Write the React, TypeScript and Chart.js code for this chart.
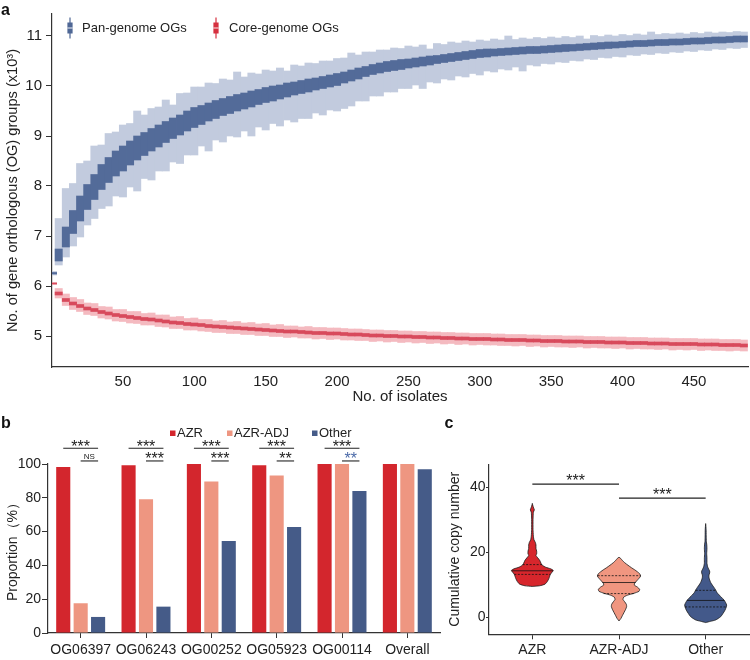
import React, { useEffect, useRef } from "react";
import { Chart, registerables } from "chart.js";
Chart.register(...registerables);

const FONT = '"Liberation Sans", Arial, Helvetica, sans-serif';
const INK = "#222";
const AXIS = "#333";
Chart.defaults.font.family = FONT;
Chart.defaults.color = INK;

// ---------------- panel a ----------------
const ISOLATES = [
  1, 5, 10, 15, 20, 25, 30, 35, 40, 45,
  50, 55, 60, 65, 70, 75, 80, 85, 90, 95,
  100, 105, 110, 115, 120, 125, 130, 135, 140, 145,
  150, 155, 160, 165, 170, 175, 180, 185, 190, 195,
  200, 205, 210, 215, 220, 225, 230, 235, 240, 245,
  250, 255, 260, 265, 270, 275, 280, 285, 290, 295,
  300, 305, 310, 315, 320, 325, 330, 335, 340, 345,
  350, 355, 360, 365, 370, 375, 380, 385, 390, 395,
  400, 405, 410, 415, 420, 425, 430, 435, 440, 445,
  450, 455, 460, 465, 470, 475, 480, 485,
];
const PAN_LO = [
  6.22, 6.42, 6.58, 6.8, 6.98, 7.22, 7.35, 7.55, 7.6, 7.8,
  7.78, 7.98, 7.9, 8.15, 8.12, 8.3, 8.3, 8.48, 8.45, 8.62,
  8.62, 8.8, 8.7, 8.92, 8.88, 9.0, 8.98, 9.1, 9.0, 9.18,
  9.12, 9.25, 9.2, 9.32, 9.28, 9.35, 9.35, 9.46, 9.42, 9.52,
  9.5, 9.55, 9.6, 9.7, 9.7, 9.8, 9.8, 9.88, 9.88, 9.95,
  9.95, 10.02, 9.95, 10.08, 10.06, 10.14, 10.12, 10.2, 10.18, 10.25,
  10.22, 10.3, 10.28, 10.34, 10.32, 10.38, 10.3, 10.42, 10.4, 10.45,
  10.44, 10.48, 10.47, 10.51, 10.5, 10.54, 10.53, 10.57, 10.56, 10.59,
  10.58, 10.62, 10.61, 10.64, 10.63, 10.66, 10.65, 10.68, 10.67, 10.7,
  10.69, 10.72, 10.71, 10.74, 10.73, 10.76, 10.75, 10.77,
];
const PAN_Q1 = [
  6.24, 6.5, 6.78, 7.05, 7.3, 7.53, 7.73, 7.93, 8.07, 8.2,
  8.3, 8.42, 8.52, 8.61, 8.7, 8.78, 8.87, 8.95, 9.02, 9.1,
  9.17, 9.23, 9.3, 9.35, 9.41, 9.45, 9.5, 9.54, 9.58, 9.63,
  9.67, 9.7, 9.74, 9.78, 9.82, 9.85, 9.88, 9.92, 9.95, 9.98,
  10.01, 10.06, 10.1, 10.14, 10.19, 10.23, 10.26, 10.29, 10.31, 10.33,
  10.36, 10.38, 10.4, 10.42, 10.45, 10.47, 10.49, 10.51, 10.53, 10.55,
  10.57, 10.58, 10.6, 10.61, 10.62, 10.63, 10.64, 10.65, 10.65, 10.66,
  10.67, 10.68, 10.69, 10.7, 10.71, 10.72, 10.73, 10.74, 10.75, 10.76,
  10.77, 10.78, 10.79, 10.79, 10.8, 10.81, 10.81, 10.82, 10.82, 10.83,
  10.84, 10.84, 10.85, 10.86, 10.86, 10.87, 10.88, 10.88,
];
const PAN_Q3 = [
  6.27, 6.74, 7.18, 7.51, 7.8, 8.03, 8.23, 8.43, 8.57, 8.7,
  8.8, 8.9, 9.0, 9.07, 9.15, 9.22, 9.29, 9.36, 9.42, 9.5,
  9.57, 9.61, 9.66, 9.71, 9.75, 9.79, 9.83, 9.86, 9.9, 9.93,
  9.97, 10.0, 10.02, 10.06, 10.08, 10.11, 10.14, 10.16, 10.19, 10.22,
  10.25, 10.28, 10.32, 10.36, 10.39, 10.43, 10.46, 10.49, 10.51, 10.53,
  10.54, 10.56, 10.58, 10.6, 10.61, 10.63, 10.65, 10.67, 10.69, 10.71,
  10.73, 10.74, 10.74, 10.75, 10.76, 10.77, 10.78, 10.79, 10.79, 10.8,
  10.81, 10.82, 10.83, 10.83, 10.84, 10.85, 10.86, 10.87, 10.88, 10.88,
  10.89, 10.9, 10.91, 10.91, 10.92, 10.93, 10.93, 10.94, 10.94, 10.95,
  10.96, 10.96, 10.97, 10.98, 10.98, 10.99, 11.0, 11.0,
];
const PAN_HI = [
  6.29, 7.35, 7.95, 8.05, 8.45, 8.5, 8.8, 8.82, 9.05, 9.08,
  9.22, 9.25, 9.5, 9.42, 9.55, 9.58, 9.72, 9.62, 9.85, 9.86,
  9.98, 9.98, 10.06, 10.05, 10.14, 10.12, 10.28, 10.18, 10.26, 10.24,
  10.32, 10.3, 10.36, 10.3, 10.42, 10.4, 10.46, 10.45, 10.5, 10.5,
  10.55, 10.56, 10.66, 10.62, 10.68, 10.68, 10.72, 10.72, 10.76, 10.75,
  10.8, 10.78, 10.82, 10.74, 10.85, 10.83, 10.88, 10.86, 10.9, 10.88,
  10.92, 10.9, 10.94, 10.92, 11.0, 10.93, 10.96, 10.94, 10.97, 10.95,
  10.98, 10.96, 10.99, 10.97, 11.0, 10.94, 11.01, 10.99, 11.02, 11.0,
  11.03, 11.01, 11.04, 11.02, 11.08, 11.03, 11.05, 11.04, 11.06, 11.04,
  11.07, 11.05, 11.08, 11.06, 11.08, 11.07, 11.09, 11.08,
];
const CORE_LO = [
  6.03, 5.76, 5.61, 5.53, 5.49, 5.43, 5.41, 5.36, 5.34, 5.3,
  5.29, 5.26, 5.25, 5.22, 5.22, 5.19, 5.18, 5.15, 5.15, 5.12,
  5.12, 5.1, 5.09, 5.07, 5.07, 5.05, 5.05, 5.03, 5.03, 5.01,
  5.01, 4.99, 4.99, 4.97, 4.98, 4.96, 4.96, 4.94, 4.95, 4.93,
  4.94, 4.92, 4.92, 4.91, 4.91, 4.89, 4.9, 4.88, 4.89, 4.87,
  4.88, 4.86, 4.87, 4.85, 4.86, 4.84, 4.85, 4.83, 4.84, 4.82,
  4.83, 4.82, 4.82, 4.81, 4.81, 4.8, 4.81, 4.79, 4.8, 4.78,
  4.79, 4.78, 4.78, 4.77, 4.78, 4.76, 4.77, 4.76, 4.76, 4.75,
  4.76, 4.74, 4.75, 4.74, 4.74, 4.73, 4.74, 4.72, 4.73, 4.72,
  4.73, 4.71, 4.72, 4.71, 4.71, 4.7, 4.71, 4.7,
];
const CORE_Q1 = [
  6.04, 5.82, 5.69, 5.62, 5.57, 5.52, 5.49, 5.45, 5.42, 5.39,
  5.37, 5.35, 5.33, 5.31, 5.3, 5.28, 5.26, 5.24, 5.23, 5.21,
  5.2, 5.19, 5.17, 5.16, 5.15, 5.14, 5.13, 5.12, 5.11, 5.1,
  5.09, 5.08, 5.07, 5.06, 5.06, 5.05, 5.04, 5.03, 5.03, 5.02,
  5.02, 5.01, 5.0, 5.0, 4.99, 4.98, 4.98, 4.97, 4.97, 4.96,
  4.96, 4.95, 4.95, 4.94, 4.94, 4.93, 4.93, 4.92, 4.92, 4.91,
  4.91, 4.91, 4.9, 4.9, 4.89, 4.89, 4.89, 4.88, 4.88, 4.87,
  4.87, 4.87, 4.86, 4.86, 4.86, 4.85, 4.85, 4.85, 4.84, 4.84,
  4.84, 4.83, 4.83, 4.83, 4.82, 4.82, 4.82, 4.81, 4.81, 4.81,
  4.81, 4.8, 4.8, 4.8, 4.79, 4.79, 4.79, 4.78,
];
const CORE_Q3 = [
  6.06, 5.88, 5.75, 5.68, 5.63, 5.58, 5.55, 5.51, 5.48, 5.45,
  5.43, 5.41, 5.39, 5.37, 5.36, 5.34, 5.32, 5.3, 5.29, 5.27,
  5.26, 5.25, 5.23, 5.22, 5.21, 5.2, 5.19, 5.18, 5.17, 5.16,
  5.15, 5.14, 5.13, 5.12, 5.12, 5.11, 5.1, 5.09, 5.09, 5.08,
  5.08, 5.07, 5.06, 5.06, 5.05, 5.04, 5.04, 5.03, 5.03, 5.02,
  5.02, 5.01, 5.01, 5.0, 5.0, 4.99, 4.99, 4.98, 4.98, 4.97,
  4.97, 4.97, 4.96, 4.96, 4.95, 4.95, 4.95, 4.94, 4.94, 4.93,
  4.93, 4.93, 4.92, 4.92, 4.92, 4.91, 4.91, 4.91, 4.9, 4.9,
  4.9, 4.89, 4.89, 4.89, 4.88, 4.88, 4.88, 4.87, 4.87, 4.87,
  4.87, 4.86, 4.86, 4.86, 4.85, 4.85, 4.85, 4.84,
];
const CORE_HI = [
  6.07, 5.95, 5.84, 5.77, 5.73, 5.66, 5.65, 5.59, 5.58, 5.53,
  5.53, 5.49, 5.49, 5.45, 5.46, 5.42, 5.42, 5.38, 5.39, 5.35,
  5.36, 5.33, 5.33, 5.3, 5.31, 5.28, 5.29, 5.26, 5.27, 5.24,
  5.25, 5.22, 5.23, 5.2, 5.2, 5.18, 5.19, 5.17, 5.17, 5.16,
  5.16, 5.15, 5.14, 5.14, 5.13, 5.12, 5.12, 5.11, 5.11, 5.1,
  5.1, 5.09, 5.09, 5.08, 5.08, 5.07, 5.07, 5.06, 5.06, 5.05,
  5.05, 5.05, 5.04, 5.04, 5.03, 5.03, 5.03, 5.02, 5.02, 5.01,
  5.01, 5.01, 5.0, 5.0, 5.0, 4.99, 4.99, 4.99, 4.98, 4.98,
  4.98, 4.97, 4.97, 4.97, 4.96, 4.96, 4.96, 4.95, 4.95, 4.95,
  4.95, 4.94, 4.94, 4.94, 4.93, 4.93, 4.93, 4.92,
];
const A_X_TICKS = [50, 100, 150, 200, 250, 300, 350, 400, 450];
const A_Y_TICKS = [5, 6, 7, 8, 9, 10, 11];
const A_SERIES = ["Pan-genome OGs", "Core-genome OGs"];

// ---------------- panel b ----------------
const GENES = ["OG06397", "OG06243", "OG00252", "OG05923", "OG00114", "Overall"];
const B_SERIES = ["AZR", "AZR-ADJ", "Other"];
const AZR_PCT = [98.2, 99.3, 100, 99.2, 100, 100];
const ADJ_PCT = [17.6, 79.1, 89.7, 93.2, 100, 100];
const OTHER_PCT = [9.5, 15.6, 54.4, 62.7, 84.0, 96.9];
const B_Y_TICKS = [0, 20, 40, 60, 80, 100];
const SIG_OUTER = ["***", "***", "***", "***", "***", ""];
const SIG_INNER = ["NS", "***", "***", "**", "**", ""];

// ---------------- panel c ----------------
const GROUPS = ["AZR", "AZR-ADJ", "Other"];
const VIOLIN_Y = [
  [9.5, 9.7, 10.2, 11, 12, 13.2, 14.0, 14.4, 14.9, 15.4, 16.0, 16.6, 17.5, 18.3, 19.0, 19.5, 20.3, 21.2, 22.2, 23.0, 23.8, 25, 27, 30, 32.3, 33.0, 33.6, 34.5, 35],
  [-1.1, -0.3, 0.5, 1.5, 2.5, 3.3, 4.0, 4.8, 5.5, 6.2, 6.8, 7.4, 8.0, 8.6, 9.3, 9.9, 10.5, 11.2, 12.0, 12.7, 13.4, 14.0, 14.6, 15.2, 16.0, 16.8, 17.5, 18.1, 18.5],
  [-1.6, -1.2, -0.8, 0.2, 1.2, 2.2, 3.2, 3.8, 4.5, 5.3, 6.2, 6.9, 7.6, 8.4, 9.2, 9.9, 10.7, 11.5, 12.3, 13.0, 13.6, 14.2, 14.8, 15.5, 16.6, 18.1, 19.6, 21.2, 22.5, 23.2, 25, 27, 28.8],
];
const VIOLIN_W = [
  [0, 0.085, 0.146, 0.173, 0.192, 0.208, 0.231, 0.242, 0.212, 0.154, 0.115, 0.1, 0.085, 0.062, 0.042, 0.05, 0.05, 0.042, 0.042, 0.035, 0.019, 0.012, 0.008, 0.008, 0.012, 0.023, 0.015, 0.004, 0],
  [0, 0.023, 0.038, 0.058, 0.077, 0.088, 0.085, 0.065, 0.046, 0.054, 0.096, 0.173, 0.231, 0.238, 0.212, 0.177, 0.181, 0.204, 0.231, 0.25, 0.238, 0.212, 0.181, 0.146, 0.104, 0.065, 0.038, 0.019, 0],
  [0, 0.058, 0.115, 0.173, 0.2, 0.223, 0.238, 0.242, 0.231, 0.212, 0.181, 0.154, 0.131, 0.115, 0.096, 0.077, 0.058, 0.046, 0.038, 0.038, 0.046, 0.046, 0.035, 0.023, 0.015, 0.015, 0.012, 0.015, 0.012, 0.008, 0.006, 0.005, 0],
];
const QUARTILES = [
  [13.2, 14.3, 16.2],
  [7.3, 10.7, 12.8],
  [3.2, 5.2, 8.3],
];
const QUARTILE_W = [
  [0.208, 0.238, 0.112],
  [0.177, 0.192, 0.246],
  [0.238, 0.215, 0.115],
];
const C_Y_TICKS = [0, 20, 40];
const SIG_C = [
  { from: 0, to: 1, label: "***" },
  { from: 1, to: 2, label: "***" },
];

// ---------------- styles ----------------
const PAN_DARK = "#536b99";
const PAN_LIGHT = "#c2cbde";
const CORE_DARK = "#d84a5c";
const CORE_LIGHT = "#f4bac0";
const CORE_ICON = "#d6303f";
const RED = "#d3262d";
const SALMON = "#ee9681";
const NAVY = "#455b88";
const VIOLIN_COLORS = ["#d7262c", "#f09680", "#43598a"];

const fixedWidth = (w: number) => (s: any) => { s.width = w; };
const fixedHeight = (h: number) => (s: any) => { s.height = h; };
const setTicks = (vals: number[]) => (s: any) => { s.ticks = vals.map((v) => ({ value: v })); };

// ---------- panel a ----------
const legendA = {
  id: "legendA",
  afterDraw(chart: any) {
    const ctx = chart.ctx;
    const items = [
      { label: A_SERIES[0], color: "#4f6795", x: 70, tx: 82 },
      { label: A_SERIES[1], color: CORE_ICON, x: 216, tx: 229 },
    ];
    ctx.save();
    items.forEach((it) => {
      ctx.fillStyle = it.color;
      ctx.fillRect(it.x - 0.6, 17.5, 1.2, 21);
      ctx.fillRect(it.x - 2.6, 22.5, 5.2, 11);
      ctx.fillStyle = "rgba(255,255,255,0.9)";
      ctx.fillRect(it.x - 2.6, 27.5, 5.2, 1);
      ctx.fillStyle = INK;
      ctx.font = `13px ${FONT}`;
      ctx.textAlign = "left";
      ctx.textBaseline = "middle";
      ctx.fillText(it.label, it.tx, 28.5);
    });
    ctx.restore();
  },
};

function buildA(): any {
  const mk = (lo: number[], hi: number[]) => ISOLATES.map((n, i) => ({ x: n, y: [lo[i], hi[i]] }));
  const common = { grouped: false, barThickness: 7.3, borderWidth: 0 };
  return {
    type: "bar",
    data: {
      datasets: [
        { label: A_SERIES[0] + " box", data: mk(PAN_Q1, PAN_Q3), backgroundColor: PAN_DARK, order: 1, ...common },
        { label: A_SERIES[1] + " box", data: mk(CORE_Q1, CORE_Q3), backgroundColor: CORE_DARK, order: 1, ...common },
        { label: A_SERIES[0], data: mk(PAN_LO, PAN_HI), backgroundColor: PAN_LIGHT, order: 2, ...common },
        { label: A_SERIES[1], data: mk(CORE_LO, CORE_HI), backgroundColor: CORE_LIGHT, order: 2, ...common },
      ],
    },
    options: {
      responsive: false,
      animation: false,
      devicePixelRatio: 1,
      events: [],
      layout: { padding: { left: 0, right: 2, top: 14, bottom: 0 } },
      plugins: { legend: { display: false }, tooltip: { enabled: false } },
      scales: {
        x: {
          type: "linear",
          min: 0.3,
          max: 487.9,
          offset: false,
          grid: { display: true, drawOnChartArea: false, offset: false, tickLength: 4, tickColor: "rgba(0,0,0,0)" },
          border: { display: true, color: AXIS, width: 1.2 },
          ticks: { font: { size: 15 }, color: INK, padding: 2, maxRotation: 0, autoSkip: false },
          title: { display: true, text: "No. of isolates", font: { size: 15 }, color: INK, padding: { top: 0, bottom: 4 } },
          afterBuildTicks: setTicks(A_X_TICKS),
          afterFit: fixedHeight(43),
        },
        y: {
          type: "linear",
          min: 4.38,
          max: 11.44,
          grid: { display: true, drawOnChartArea: false, tickLength: 6, tickColor: AXIS },
          border: { display: true, color: AXIS, width: 1.2 },
          ticks: { font: { size: 15 }, color: INK, padding: 4 },
          title: { display: true, text: "No. of gene orthologous (OG) groups (x10³)", font: { size: 14.6 }, color: INK, padding: { top: 4, bottom: 0 } },
          afterBuildTicks: setTicks(A_Y_TICKS),
          afterFit: fixedWidth(52),
        },
      },
    },
    plugins: [legendA],
  };
}

// ---------- panel b ----------
const SIG_B_LEVELS = [109.3, 101.8];
const legendB = {
  id: "legendB",
  afterDraw(chart: any) {
    const ctx = chart.ctx;
    const xs = [170, 227, 312];
    ctx.save();
    chart.data.datasets.forEach((ds: any, i: number) => {
      ctx.fillStyle = ds.backgroundColor;
      ctx.fillRect(xs[i], 20.5, 5.5, 5.5);
      ctx.fillStyle = INK;
      ctx.font = `13px ${FONT}`;
      ctx.textAlign = "left";
      ctx.textBaseline = "middle";
      ctx.fillText(ds.label, xs[i] + 7, 23.5);
    });
    ctx.restore();
  },
};
const sigB = {
  id: "sigB",
  afterDraw(chart: any) {
    const ctx = chart.ctx;
    const y = chart.scales.y;
    const m = [0, 1, 2].map((i) => chart.getDatasetMeta(i));
    ctx.save();
    ctx.strokeStyle = INK;
    ctx.lineWidth = 1.1;
    ctx.textAlign = "center";
    ctx.textBaseline = "alphabetic";
    GENES.forEach((_, i) => {
      const rows = [
        { txt: SIG_OUTER[i], a: m[0].data[i].x, b: m[2].data[i].x, yy: y.getPixelForValue(SIG_B_LEVELS[0]) },
        { txt: SIG_INNER[i], a: m[1].data[i].x, b: m[2].data[i].x, yy: y.getPixelForValue(SIG_B_LEVELS[1]) },
      ];
      rows.forEach((r, k) => {
        if (!r.txt) return;
        ctx.beginPath();
        ctx.moveTo(r.a, r.yy);
        ctx.lineTo(r.b, r.yy);
        ctx.stroke();
        const cx = (r.a + r.b) / 2;
        if (r.txt === "NS") {
          ctx.font = `8px ${FONT}`;
          ctx.fillStyle = INK;
          ctx.fillText(r.txt, cx, r.yy - 2);
        } else {
          ctx.font = `16px ${FONT}`;
          ctx.fillStyle = k === 1 && i === 4 ? "#4b6aa8" : INK;
          ctx.fillText(r.txt, cx, r.yy + 3.5);
        }
      });
    });
    ctx.restore();
  },
};

function buildB(): any {
  const ds = (label: string, data: number[], color: string) => ({
    label, data, backgroundColor: color, borderWidth: 0, categoryPercentage: 0.8, barPercentage: 0.81,
  });
  return {
    type: "bar",
    data: {
      labels: GENES,
      datasets: [ds(B_SERIES[0], AZR_PCT, RED), ds(B_SERIES[1], ADJ_PCT, SALMON), ds(B_SERIES[2], OTHER_PCT, NAVY)],
    },
    options: {
      responsive: false,
      animation: false,
      devicePixelRatio: 1,
      events: [],
      layout: { padding: { left: 0, right: 5, top: 54, bottom: 0 } },
      plugins: { legend: { display: false }, tooltip: { enabled: false } },
      scales: {
        x: {
          grid: { display: true, drawOnChartArea: false, offset: false, tickLength: 5, tickColor: AXIS },
          border: { display: true, color: AXIS, width: 1.2 },
          ticks: { font: { size: 14 }, color: INK, padding: 3.5, maxRotation: 0, autoSkip: false },
          afterFit: fixedHeight(27),
        },
        y: {
          min: 0,
          max: 100,
          grid: { display: true, drawOnChartArea: false, tickLength: 6, tickColor: AXIS },
          border: { display: true, color: AXIS, width: 1.2 },
          ticks: { font: { size: 14 }, color: INK, padding: 1 },
          title: { display: true, text: "Proportion（%）", font: { size: 14 }, color: INK, padding: { top: 4.9, bottom: 0 } },
          afterBuildTicks: setTicks(B_Y_TICKS),
          afterFit: fixedWidth(48),
        },
      },
    },
    plugins: [legendB, sigB],
  };
}

// ---------- panel c ----------
const SIG_C_LEVELS = [40.9, 36.6];
const sigC = {
  id: "sigC",
  afterDraw(chart: any) {
    const ctx = chart.ctx;
    const xs = chart.scales.x;
    const ys = chart.scales.y;
    ctx.save();
    ctx.strokeStyle = INK;
    ctx.fillStyle = INK;
    ctx.lineWidth = 1.1;
    ctx.textAlign = "center";
    ctx.textBaseline = "alphabetic";
    ctx.font = `16px ${FONT}`;
    SIG_C.forEach((s, i) => {
      const a = xs.getPixelForValue(s.from);
      const b = xs.getPixelForValue(s.to);
      const yy = ys.getPixelForValue(SIG_C_LEVELS[i]);
      ctx.beginPath();
      ctx.moveTo(a, yy);
      ctx.lineTo(b, yy);
      ctx.stroke();
      ctx.fillText(s.label, (a + b) / 2, yy + 2.3);
    });
    ctx.restore();
  },
};

function buildC(): any {
  const violins = GROUPS.map((g, gi) => {
    const ys = VIOLIN_Y[gi];
    const ws = VIOLIN_W[gi];
    const right = ys.map((y, k) => ({ x: gi + ws[k], y }));
    const left = ys.map((y, k) => ({ x: gi - ws[k], y })).reverse();
    return {
      label: g,
      data: [...right, ...left],
      backgroundColor: VIOLIN_COLORS[gi],
      borderColor: "#1c1c1c",
      borderWidth: 0.8,
      fill: "shape",
      tension: 0.2,
      pointRadius: 0,
      order: 2,
    };
  });
  const quartLines: any[] = [];
  GROUPS.forEach((g, gi) => {
    QUARTILES[gi].forEach((q, k) => {
      const w = QUARTILE_W[gi][k];
      quartLines.push({
        label: `${g} q${k}`,
        data: [{ x: gi - w, y: q }, { x: gi + w, y: q }],
        borderColor: "#111",
        borderWidth: 0.8,
        borderDash: k === 1 ? [] : [2, 1.5],
        fill: false,
        pointRadius: 0,
        order: 1,
      });
    });
  });
  return {
    type: "line",
    data: { datasets: [...violins, ...quartLines] },
    options: {
      responsive: false,
      animation: false,
      devicePixelRatio: 1,
      events: [],
      layout: { padding: { left: 0, right: 1, top: 54.3, bottom: 0 } },
      plugins: { legend: { display: false }, tooltip: { enabled: false } },
      scales: {
        x: {
          type: "linear",
          min: -0.5,
          max: 2.5,
          grid: { display: true, drawOnChartArea: false, tickLength: 5, tickColor: AXIS },
          border: { display: true, color: AXIS, width: 1.2 },
          ticks: { font: { size: 14 }, color: INK, padding: 2.3, maxRotation: 0, autoSkip: false, callback: (v: number) => GROUPS[v] ?? "" },
          afterBuildTicks: setTicks([0, 1, 2]),
          afterFit: fixedHeight(25.7),
        },
        y: {
          type: "linear",
          min: -5.2,
          max: 47,
          grid: { display: true, drawOnChartArea: false, tickLength: 3, tickColor: AXIS },
          border: { display: true, color: AXIS, width: 1.2 },
          ticks: { font: { size: 14 }, color: INK, padding: 0.5 },
          title: { display: true, text: "Cumulative copy number", font: { size: 14 }, color: INK, padding: { top: 6.6, bottom: 0 } },
          afterBuildTicks: setTicks(C_Y_TICKS),
          afterFit: fixedWidth(49),
        },
      },
    },
    plugins: [sigC],
  };
}

export default function App() {
  const aRef = useRef<HTMLCanvasElement>(null);
  const bRef = useRef<HTMLCanvasElement>(null);
  const cRef = useRef<HTMLCanvasElement>(null);
  useEffect(() => {
    const charts: Chart[] = [];
    if (aRef.current) charts.push(new Chart(aRef.current, buildA()));
    if (bRef.current) charts.push(new Chart(bRef.current, buildB()));
    if (cRef.current) charts.push(new Chart(cRef.current, buildC()));
    return () => charts.forEach((c) => c.destroy());
  }, []);
  const label = (t: string, left: number, top: number) => (
    <div style={{ position: "absolute", left, top, font: `bold 16px ${FONT}`, lineHeight: "16px", color: "#111" }}>{t}</div>
  );
  return (
    <div style={{ position: "absolute", left: 0, top: 0, width: 750, height: 660, background: "#fff", overflow: "hidden" }}>
      <canvas ref={aRef} width={750} height={410} style={{ position: "absolute", left: 0, top: 0 }} />
      <canvas ref={bRef} width={445} height={250} style={{ position: "absolute", left: 0, top: 410 }} />
      <canvas ref={cRef} width={310} height={250} style={{ position: "absolute", left: 440, top: 410 }} />
      {label("a", 1, 1.5)}
      {label("b", 1, 414.5)}
      {label("c", 444.5, 414.5)}
    </div>
  );
}
